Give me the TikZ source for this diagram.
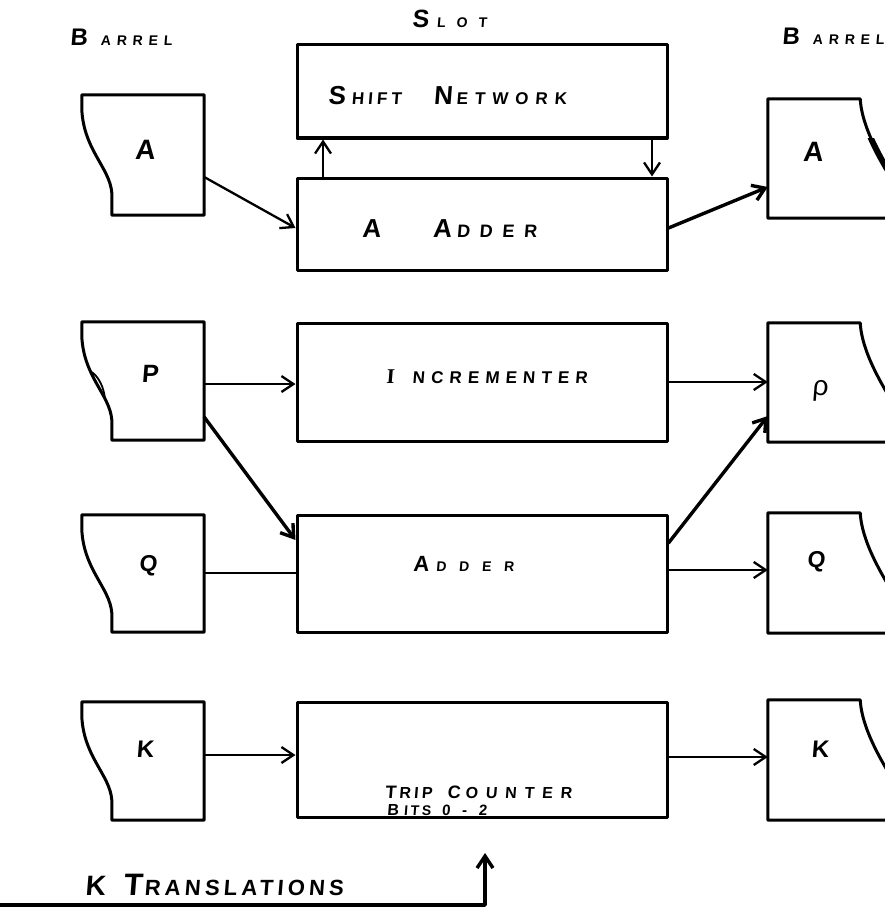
\documentclass[tikz,border=0pt]{standalone}
\usepackage{fontspec}
\setmainfont{Liberation Sans}[FakeSlant=0.08]
\newfontfamily\serifI{Liberation Serif}[FakeSlant=0.08]
\usetikzlibrary{arrows.meta}
% #1 big size, #2 small size, #3 letter spacing of small run, #4 gap after big letter, #5 big letter, #6 small run
\newcommand\Lw[6]{{\fontsize{#1}{#1}\selectfont #5}\hspace{#4pt}{\addfontfeatures{LetterSpace=#3}\fontsize{#2}{#2}\selectfont #6}}
\begin{document}
\begin{tikzpicture}[x=1pt,y=-1pt,line cap=round,line join=round,
  >={Straight Barb[length=12pt,width=16pt]},
  box/.style={draw,line width=3pt,minimum width=370pt,inner sep=0pt},
  lbarrel/.style={inner sep=0pt,minimum width=122pt,minimum height=#1},
  rbarrel/.style={inner sep=0pt,minimum width=92pt,minimum height=#1},
  outline/.style={line width=3pt},
  txt/.style={inner sep=0pt,anchor=base west,font=\bfseries},
  letter/.style={inner sep=0pt,font=\bfseries\fontsize{#1}{#1}\selectfont},
  conn/.style={line width=2.3pt,->},
  heavy/.style={line width=3.4pt},
  plain/.style={line width=2.3pt}]
\clip (0,0) rectangle (885,915);
% central boxes
\node[box,minimum height=93pt] (shift) at (482,91.5) {};
\node[box,minimum height=92pt] (aadd) at (482,224) {};
\node[box,minimum height=118pt] (inc) at (482,382) {};
\node[box,minimum height=117pt] (add) at (482,573.5) {};
\node[box,minimum height=115pt] (trip) at (482,759.5) {};
% left barrels
\node[lbarrel=120pt] (lA) at (143,155) {};
\node[lbarrel=118pt] (lP) at (143,381) {};
\node[lbarrel=117pt] (lQ) at (143,573.5) {};
\node[lbarrel=118pt] (lK) at (143,761) {};
\foreach \n in {lA,lP,lQ,lK}
  \draw[outline] (\n.north west) -- ++(0,15) .. controls +(2,40) and +(-2,-25) .. ++(30,83)
     |- (\n.south east) -- (\n.north east) -- cycle;
\draw[line width=1.8pt] (90,371) .. controls (99,376) and (104,388) .. (105,399);
% right barrels
\node[rbarrel=119pt] (rA) at (814,158.5) {};
\node[rbarrel=119pt] (rP) at (814,382.5) {};
\node[rbarrel=120pt] (rQ) at (814,573) {};
\node[rbarrel=120pt] (rK) at (814,760) {};
\foreach \n in {rA,rP,rQ,rK}
  \draw[outline] ([xshift=130pt]\n.south west) -- (\n.south west) -- (\n.north west) -- (\n.north east)
     .. controls +(2,35) and +(-15,-25) .. ++(45,100);
\begin{scope}
  \clip (862,138) rectangle (885,200);
  \draw[line width=6pt] (rA.north east) .. controls +(2,35) and +(-15,-25) .. ++(45,100);
\end{scope}
% barrel letters
\node[letter=28] (xlA) at (145,150) {A};
\node[letter=25] (xlP) at (150,374) {P};
\node[letter=23] (xlQ) at (148,566) {Q};
\node[letter=24] (xlK) at (145,749) {K};
\node[letter=28] (xrA) at (813,152) {A};
\node[letter=28] (xrP) at (820,391) {\mdseries ρ};
\node[letter=23] (xrQ) at (816,562) {Q};
\node[letter=24] (xrK) at (820,749) {K};
% texts
\node[txt] (tbarL) at (70,46) {\Lw{24}{14}{42}{13}{B}{ARREL}};
\node[txt] (tslot) at (412,28) {\Lw{25}{14}{79}{8}{S}{LOT}};
\node[txt] (tbarR) at (782,45) {\Lw{24}{14}{42}{13}{B}{ARREL}};
\node[txt] (tshift) at (328,105) {\Lw{26}{17}{24}{6}{S}{HIFT}\hspace{32pt}\Lw{26}{17}{41}{4}{N}{ETWORK}};
\node[txt] (taadd) at (362,237) {\Lw{26}{26}{0}{0}{A}{}\hspace{52pt}\Lw{26}{18}{54}{5}{A}{DDER}};
\node[txt] (tinc) at (386,383) {\Lw{21}{17}{36}{18}{\serifI I}{NCREMENTER}};
\node[txt] (tadd) at (413,571) {\Lw{22}{14}{91}{7}{A}{DDER}};
\node[txt] (ttrip) at (385,798) {\Lw{18}{16}{20}{3}{T}{RIP}\hspace{15pt}\Lw{18}{16}{49}{5}{C}{OUNTER}};
\node[txt] (tbits) at (387,815) {\Lw{16}{14}{19}{5}{B}{ITS}\hspace{11pt}\Lw{15}{15}{78}{0}{}{0-2}};
\node[txt] (tkt) at (85,895) {\Lw{28}{28}{0}{0}{K}{}\hspace{18pt}\Lw{31}{22}{19}{2}{T}{RANSLATIONS}};
% connectors
\draw[conn] (lA.east |- 0,177) -- (aadd.west |- 0,228);
\draw[conn] (aadd.north -| 323,0) -- (shift.south -| 323,0);
\draw[conn] (shift.south -| 652,0) -- (aadd.north -| 652,0);
\draw[conn,heavy] (aadd.east |- 0,228) -- (rA.west |- 0,187);
\draw[conn] (lP.east |- 0,384) -- (inc.west |- 0,384);
\draw[conn,heavy] (lP.east |- 0,417) -- (add.west |- 0,540);
\draw[conn] (inc.east |- 0,382) -- (rP.west |- 0,382);
\draw[conn,heavy] (add.east |- 0,543) -- (rP.west |- 0,416);
\draw[plain] (lQ.east |- 0,573) -- (add.west |- 0,573);
\draw[conn] (add.east |- 0,570) -- (rQ.west |- 0,570);
\draw[conn] (lK.east |- 0,755) -- (trip.west |- 0,755);
\draw[conn] (trip.east |- 0,757) -- (rK.west |- 0,757);
\coordinate (kin) at (0,905);
\coordinate (kend) at (485,853);
\draw[conn,heavy] (kin) -| (kend);
\end{tikzpicture}
\end{document}
